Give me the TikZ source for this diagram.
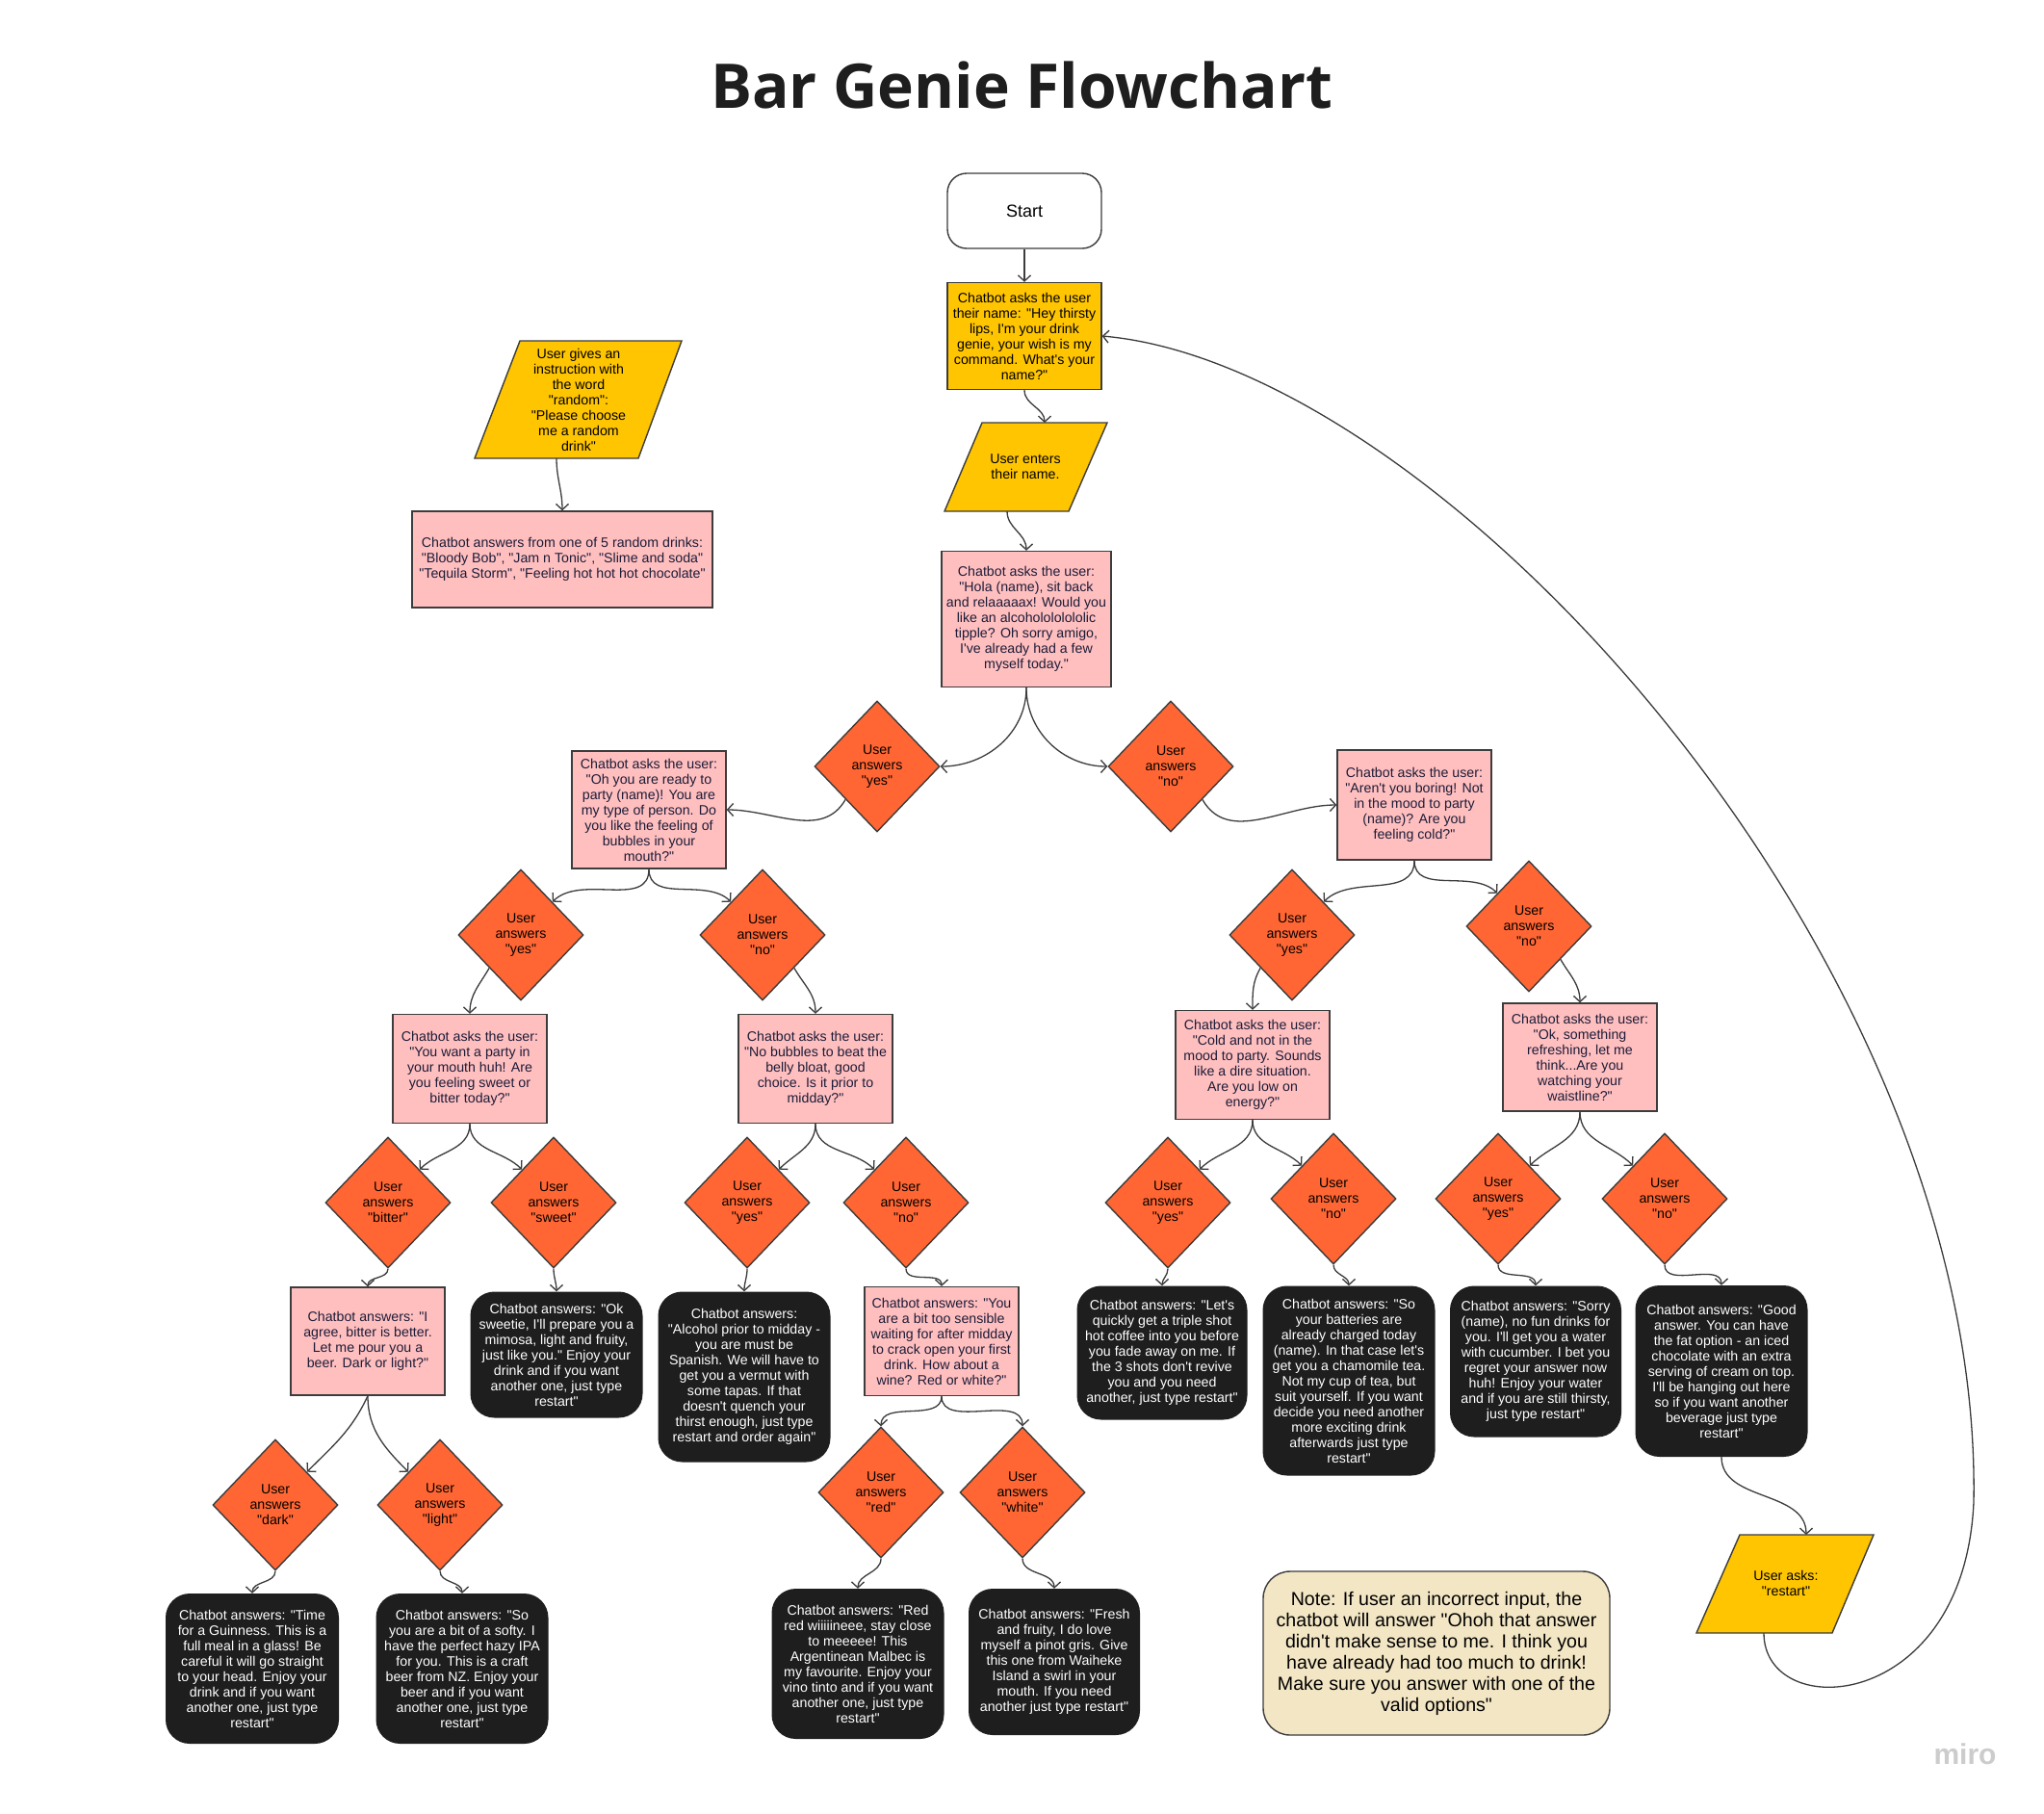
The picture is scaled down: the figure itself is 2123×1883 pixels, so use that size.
\documentclass[tikz,border=0pt]{standalone}
\usepackage{fontspec}
\setmainfont{Liberation Sans}[Ligatures=TeXOff]
\newfontfamily\titlefont{Open Sans}
\usepackage{xcolor}
\usetikzlibrary{positioning,shapes.geometric,arrows.meta,calc}

\definecolor{gold}{HTML}{FFC500}
\definecolor{blush}{HTML}{FFBFBF}
\definecolor{flame}{HTML}{FF6633}
\definecolor{ink}{HTML}{1E1E1E}
\definecolor{sand}{HTML}{F3E6C4}
\definecolor{edge}{HTML}{3C3C3C}
\definecolor{navy}{HTML}{1C1C38}

\newcommand{\boxfont}{\fontsize{14.2}{16}\selectfont}

\tikzset{
  every node/.style={font=\boxfont, align=center, inner sep=0pt},
  link/.style={draw=edge, line width=1.3pt, -{Straight Barb[length=6pt,width=13pt]}},
  startbox/.style={rectangle, rounded corners=20pt, draw=edge, line width=1.4pt, fill=white, minimum width=160pt, minimum height=78pt, font=\fontsize{18}{20}\selectfont},
  namebox/.style={rectangle, draw=edge, line width=1.4pt, fill=gold, minimum width=160pt},
  askbox/.style={rectangle, draw=edge, line width=1.4pt, fill=blush, text=navy, minimum width=160pt},
  userin/.style={draw=edge, line width=1.4pt, fill=gold},
  answer/.style={diamond, draw=edge, line width=1.4pt, fill=flame, minimum width=130pt, minimum height=136pt},
  reply/.style={rectangle, rounded corners=25pt, fill=ink, text=white, minimum width=179pt},
}

\begin{document}
\begin{tikzpicture}[x=1pt,y=1pt]
\fill[white] (0,0) rectangle (2123,-1883);
\useasboundingbox (0,0) rectangle (2123,-1883);

\node[font=\titlefont\bfseries\fontsize{64}{68}\selectfont, text=ink, anchor=base] (title) at (1061,-112) {Bar Genie Flowchart};

\draw[userin] (1020,-439) -- (1150,-439) -- (1110,-531) -- (981,-531) -- cycle;
\draw[userin] (540,-354) -- (708,-354) -- (663,-476) -- (493,-476) -- cycle;
\draw[userin] (1807,-1594) -- (1946,-1594) -- (1903,-1696) -- (1762,-1696) -- cycle;
\coordinate (givename-in) at (1085,-439);
\coordinate (givename-out) at (1046,-531);
\coordinate (randq-out) at (578,-476);
\coordinate (restart-in) at (1876,-1594);
\coordinate (restart-out) at (1832,-1696);

\node[startbox] (start) at (1064,-219) {Start};
\node[namebox, minimum height=111pt] (askname) at (1064,-349) {Chatbot asks the user\\their name: "Hey thirsty\\lips, I'm your drink\\genie, your wish is my\\command. What's your\\name?"};
\node (givename) at (1065,-485) {User enters\\their name.};
\node[askbox, minimum width=176pt, minimum height=141pt] (hola) at (1066,-643) {Chatbot asks the user:\\"Hola (name), sit back\\and relaaaaax! Would you\\like an alcoholololololic\\tipple? Oh sorry amigo,\\I've already had a few\\myself today."};

\node (randq) at (601,-415) {User gives an\\instruction with\\the word\\"random":\\"Please choose\\me a random\\drink"};
\node[askbox, minimum width=312pt, minimum height=100pt] (randa) at (584,-581) {Chatbot answers from one of 5 random drinks:\\"Bloody Bob", "Jam n Tonic", "Slime and soda"\\"Tequila Storm", "Feeling hot hot hot chocolate"};

\node[answer] (tippleyes) at (911,-796) {User\\answers\\"yes"};
\node[answer] (tippleno) at (1216,-796) {User\\answers\\"no"};
\node[askbox, minimum height=122pt] (askbubbles) at (674,-841) {Chatbot asks the user:\\"Oh you are ready to\\party (name)! You are\\my type of person. Do\\you like the feeling of\\bubbles in your\\mouth?"};
\node[askbox, minimum height=114pt] (askcold) at (1469,-836) {Chatbot asks the user:\\"Aren't you boring! Not\\in the mood to party\\(name)? Are you\\feeling cold?"};

\node[answer] (bubbleyes) at (541,-971) {User\\answers\\"yes"};
\node[answer] (bubbleno) at (792,-971) {User\\answers\\"no"};
\node[answer] (coldyes) at (1342,-971) {User\\answers\\"yes"};
\node[answer] (coldno) at (1588,-962) {User\\answers\\"no"};

\node[askbox, minimum height=113pt] (asktaste) at (488,-1110) {Chatbot asks the user:\\"You want a party in\\your mouth huh! Are\\you feeling sweet or\\bitter today?"};
\node[askbox, minimum height=113pt] (askmidday) at (847,-1110) {Chatbot asks the user:\\"No bubbles to beat the\\belly bloat, good\\choice.  Is it prior to\\midday?"};
\node[askbox, minimum height=113pt] (askenergy) at (1301,-1106) {Chatbot asks the user:\\"Cold and not in the\\mood to party.  Sounds\\like a dire situation.\\Are you low on\\energy?"};
\node[askbox, minimum height=112pt] (askwaist) at (1641,-1098) {Chatbot asks the user:\\"Ok, something\\refreshing, let me\\think...Are you\\watching your\\waistline?"};

\node[answer] (bitter) at (403,-1249) {User\\answers\\"bitter"};
\node[answer] (sweet) at (575,-1249) {User\\answers\\"sweet"};
\node[answer] (middayyes) at (776,-1249) {User\\answers\\"yes"};
\node[answer] (middayno) at (941,-1249) {User\\answers\\"no"};
\node[answer] (energyyes) at (1213,-1249) {User\\answers\\"yes"};
\node[answer] (energyno) at (1385,-1245) {User\\answers\\"no"};
\node[answer] (waistyes) at (1556,-1245) {User\\answers\\"yes"};
\node[answer] (waistno) at (1729,-1245) {User\\answers\\"no"};

\node[askbox, minimum height=112pt] (askbeer) at (382,-1393) {Chatbot answers: "I\\agree, bitter is better.\\Let me pour you a\\beer. Dark or light?"};
\node[reply, minimum height=131pt] (mimosa) at (578,-1407) {Chatbot answers: "Ok\\sweetie, I'll prepare you a\\mimosa, light and fruity,\\just like you." Enjoy your\\drink and if you want\\another one, just type\\restart"};
\node[reply, minimum height=177pt] (vermut) at (773,-1430) {Chatbot answers:\\"Alcohol prior to midday -\\you are must be\\Spanish.  We will have to\\get you a vermut with\\some tapas. If that\\doesn't quench your\\thirst enough, just type\\restart and order again"};
\node[askbox, minimum height=113pt] (askwine) at (978,-1393) {Chatbot answers: "You\\are a bit too sensible\\waiting for after midday\\to crack open your first\\drink. How about a\\wine? Red or white?"};
\node[reply, minimum width=177pt, minimum height=139pt] (coffee) at (1207,-1405) {Chatbot answers: "Let's\\quickly get a triple shot\\hot coffee into you before\\you fade away on me. If\\the 3 shots don't revive\\you and you need\\another, just type restart"};
\node[reply, minimum height=197pt] (chamomile) at (1401,-1434) {Chatbot answers: "So\\your batteries are\\already charged today\\(name).  In that case let's\\get you a chamomile tea.\\Not my cup of tea, but\\suit yourself. If you want\\decide you need another\\more exciting drink\\afterwards just type\\restart"};
\node[reply, minimum width=178pt, minimum height=157pt] (water) at (1595,-1414) {Chatbot answers: "Sorry\\(name), no fun drinks for\\you. I'll get you a water\\with cucumber.  I bet you\\regret your answer now\\huh! Enjoy your water\\and if you are still thirsty,\\just type restart"};
\node[reply, minimum height=178pt] (icedchoc) at (1788,-1424) {Chatbot answers: "Good\\answer. You can have\\the fat option - an iced\\chocolate with an extra\\serving of cream on top.\\I'll be hanging out here\\so if you want another\\beverage just type\\restart"};

\node[answer] (dark) at (286,-1563) {User\\answers\\"dark"};
\node[answer] (light) at (457,-1563) {User\\answers\\"light"};
\node[answer] (redwine) at (915,-1550) {User\\answers\\"red"};
\node[answer] (whitewine) at (1062,-1550) {User\\answers\\"white"};

\node[reply, minimum width=180pt, minimum height=156pt] (guinness) at (262,-1733) {Chatbot answers: "Time\\for a Guinness.  This is a\\full meal in a glass! Be\\careful it will go straight\\to your head. Enjoy your\\drink and if you want\\another one, just type\\restart"};
\node[reply, minimum height=156pt] (hazyipa) at (480,-1733) {Chatbot answers: "So\\you are a bit of a softy.  I\\have the perfect hazy IPA\\for you. This is a craft\\beer from NZ. Enjoy your\\beer and if you want\\another one, just type\\restart"};
\node[reply, minimum height=156pt] (malbec) at (891,-1728) {Chatbot answers: "Red\\red wiiiiineee, stay close\\to meeeee! This\\Argentinean Malbec is\\my favourite. Enjoy your\\vino tinto and if you want\\another one, just type\\restart"};
\node[reply, minimum width=178pt, minimum height=152pt] (pinotgris) at (1095,-1726) {Chatbot answers: "Fresh\\and fruity, I do love\\myself a pinot gris.  Give\\this one from Waiheke\\Island a swirl in your\\mouth. If you need\\another just type restart"};

\node[rectangle, rounded corners=28pt, draw=edge, line width=1.4pt, fill=sand, minimum width=360pt, minimum height=170pt, font=\fontsize{19.6}{22}\selectfont] (note) at (1492,-1717) {Note: If user an incorrect input, the\\chatbot will answer "Ohoh that answer\\didn't make sense to me. I think you\\have already had too much to drink!\\Make sure you answer with one of the\\valid options"};
\node (restart) at (1855,-1644) {User asks:\\"restart"};

\node[text=black!20, font=\bfseries\fontsize{30}{30}\selectfont] (miro) at (2041,-1822) {miro};

\draw[link] (start) -- (askname);
\draw[link] (askname.south) to[out=-90,in=90] (givename-in);
\draw[link] (givename-out) to[out=-90,in=90] (hola.north);
\draw[link] (randq-out) to[out=-90,in=90] (randa.north);
\draw[link] (hola.south) to[out=-90,in=0] (tippleyes.east);
\draw[link] (hola.south) to[out=-90,in=180] (tippleno.west);
\draw[link] (tippleyes.south west) to[out=-120,in=0] (askbubbles.east);
\draw[link] (tippleno.south east) to[out=-60,in=180] (askcold.west);
\draw[link] (askbubbles.south) to[out=-90,in=45] (bubbleyes.north east);
\draw[link] (askbubbles.south) to[out=-90,in=135] (bubbleno.north west);
\draw[link] (askcold.south) to[out=-90,in=45] (coldyes.north east);
\draw[link] (askcold.south) to[out=-90,in=135] (coldno.north west);
\draw[link] (bubbleyes.south west) to[out=-120,in=90] (asktaste.north);
\draw[link] (bubbleno.south east) to[out=-60,in=90] (askmidday.north);
\draw[link] (coldyes.south west) to[out=-120,in=90] (askenergy.north);
\draw[link] (coldno.south east) to[out=-60,in=90] (askwaist.north);
\draw[link] (asktaste.south) to[out=-90,in=45] (bitter.north east);
\draw[link] (asktaste.south) to[out=-90,in=135] (sweet.north west);
\draw[link] (askmidday.south) to[out=-90,in=45] (middayyes.north east);
\draw[link] (askmidday.south) to[out=-90,in=135] (middayno.north west);
\draw[link] (askenergy.south) to[out=-90,in=45] (energyyes.north east);
\draw[link] (askenergy.south) to[out=-90,in=135] (energyno.north west);
\draw[link] (askwaist.south) to[out=-90,in=45] (waistyes.north east);
\draw[link] (askwaist.south) to[out=-90,in=135] (waistno.north west);
\draw[link] (bitter.south) to[out=-90,in=90] (askbeer.north);
\draw[link] (sweet.south) to[out=-90,in=90] (mimosa.north);
\draw[link] (middayyes.south) to[out=-90,in=90] (vermut.north);
\draw[link] (middayno.south) to[out=-90,in=90] (askwine.north);
\draw[link] (energyyes.south) to[out=-90,in=90] (coffee.north);
\draw[link] (energyno.south) to[out=-90,in=90] (chamomile.north);
\draw[link] (waistyes.south) to[out=-90,in=90] (water.north);
\draw[link] (waistno.south) to[out=-90,in=90] (icedchoc.north);
\draw[link] (askbeer.south) to[out=-115,in=45] (dark.north east);
\draw[link] (askbeer.south) to[out=-90,in=135] (light.north west);
\draw[link] (askwine.south) to[out=-90,in=90] (redwine.north);
\draw[link] (askwine.south) to[out=-90,in=90] (whitewine.north);
\draw[link] (dark.south) to[out=-90,in=90] (guinness.north);
\draw[link] (light.south) to[out=-90,in=90] (hazyipa.north);
\draw[link] (redwine.south) to[out=-90,in=90] (malbec.north);
\draw[link] (whitewine.south) to[out=-90,in=90] (pinotgris.north);
\draw[link] (icedchoc.south) to[out=-90,in=90] (restart-in);

\coordinate (loopturn) at (2050,-1560);
\draw[link] (restart-out) .. controls (1832,-1790) and (2040,-1780) .. (loopturn) .. controls (2060,-1000) and (1500,-380) .. (askname.east);
\end{tikzpicture}
\end{document}
